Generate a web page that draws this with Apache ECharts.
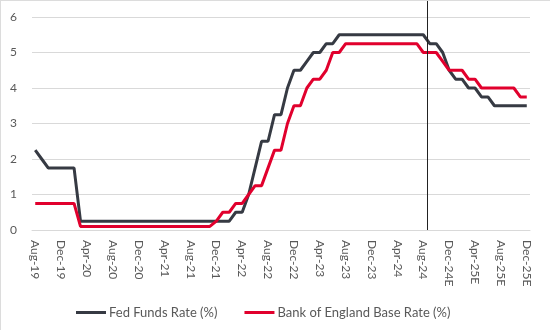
<!DOCTYPE html>
<html>
<head>
<meta charset="utf-8">
<script src="https://cdn.jsdelivr.net/npm/echarts@6/dist/echarts.min.js"></script>
<style>
  html, body { margin: 0; padding: 0; background: #fff; }
  #chart { position: absolute; left: 0; top: 0; width: 550px; height: 330px; }
  #frame { position: absolute; left: 0; top: 0; width: 550px; height: 330px; box-sizing: border-box;
           border-top: 1px solid #dcdcdc; border-left: 1px solid #dcdcdc; pointer-events: none; }
</style>
</head>
<body>
<div id="chart"></div>
<div id="frame"></div>
<script>
const months = [
  'Aug-19','Sep-19','Oct-19','Nov-19','Dec-19',
  'Jan-20','Feb-20','Mar-20','Apr-20','May-20','Jun-20','Jul-20','Aug-20','Sep-20','Oct-20','Nov-20','Dec-20',
  'Jan-21','Feb-21','Mar-21','Apr-21','May-21','Jun-21','Jul-21','Aug-21','Sep-21','Oct-21','Nov-21','Dec-21',
  'Jan-22','Feb-22','Mar-22','Apr-22','May-22','Jun-22','Jul-22','Aug-22','Sep-22','Oct-22','Nov-22','Dec-22',
  'Jan-23','Feb-23','Mar-23','Apr-23','May-23','Jun-23','Jul-23','Aug-23','Sep-23','Oct-23','Nov-23','Dec-23',
  'Jan-24','Feb-24','Mar-24','Apr-24','May-24','Jun-24','Jul-24','Aug-24','Sep-24E','Oct-24E','Nov-24E','Dec-24E',
  'Jan-25E','Feb-25E','Mar-25E','Apr-25E','May-25E','Jun-25E','Jul-25E','Aug-25E','Sep-25E','Oct-25E','Nov-25E','Dec-25E'
];

const fedFunds = [
  2.25, 2.0, 1.75, 1.75, 1.75, 1.75, 1.75,
  0.25, 0.25, 0.25, 0.25, 0.25, 0.25, 0.25, 0.25, 0.25, 0.25, 0.25, 0.25,
  0.25, 0.25, 0.25, 0.25, 0.25, 0.25, 0.25, 0.25, 0.25, 0.25, 0.25, 0.25,
  0.5, 0.5, 1.0, 1.75, 2.5, 2.5, 3.25, 3.25, 4.0, 4.5,
  4.5, 4.75, 5.0, 5.0, 5.25, 5.25,
  5.5, 5.5, 5.5, 5.5, 5.5, 5.5, 5.5, 5.5, 5.5, 5.5, 5.5, 5.5, 5.5, 5.5,
  5.25, 5.25, 5.0, 4.5, 4.25, 4.25, 4.0, 4.0, 3.75, 3.75,
  3.5, 3.5, 3.5, 3.5, 3.5, 3.5
];

const boeBase = [
  0.75, 0.75, 0.75, 0.75, 0.75, 0.75, 0.75,
  0.1, 0.1, 0.1, 0.1, 0.1, 0.1, 0.1, 0.1, 0.1, 0.1, 0.1, 0.1, 0.1, 0.1,
  0.1, 0.1, 0.1, 0.1, 0.1, 0.1, 0.1,
  0.25, 0.5, 0.5, 0.75, 0.75, 1.0, 1.25, 1.25, 1.75, 2.25, 2.25, 3.0, 3.5,
  3.5, 4.0, 4.25, 4.25, 4.5, 5.0, 5.0,
  5.25, 5.25, 5.25, 5.25, 5.25, 5.25, 5.25, 5.25, 5.25, 5.25, 5.25, 5.25,
  5.0, 5.0, 5.0, 4.75, 4.5, 4.5, 4.5, 4.25, 4.25,
  4.0, 4.0, 4.0, 4.0, 4.0, 4.0,
  3.75, 3.75
];

const yTicks = [0, 1, 2, 3, 4, 5, 6];
const seriesNames = ['Fed Funds Rate (%)', 'Bank of England Base Rate (%)'];
const forecastAfter = 'Aug-24';

const FONT = 'Lato, "Noto Sans", sans-serif';
const chart = echarts.init(document.getElementById('chart'), null, { renderer: 'canvas' });

chart.setOption({
  animation: false,
  textStyle: { fontFamily: FONT },
  grid: { left: 32, right: 20, top: 17, bottom: 100 },
  legend: {
    left: 71, bottom: 6,
    itemWidth: 30, itemHeight: 3, itemGap: 27,
    icon: 'rect',
    textStyle: { fontFamily: FONT, fontSize: 13, color: '#595959', padding: [0, 0, 0, -2] },
    data: seriesNames
  },
  xAxis: {
    type: 'category',
    data: months,
    boundaryGap: true,
    axisLine: { show: true, lineStyle: { color: '#d9d9d9', width: 1 } },
    axisTick: { show: false },
    axisLabel: { interval: 3, rotate: -90, margin: 10, fontSize: 12, color: '#595959', fontFamily: FONT },
    splitLine: { show: false }
  },
  yAxis: {
    type: 'value',
    min: yTicks[0], max: yTicks[yTicks.length - 1], interval: 1,
    axisLine: { show: false },
    axisTick: { show: false },
    axisLabel: { margin: 15, fontSize: 12, color: '#595959', fontFamily: FONT },
    splitLine: { lineStyle: { color: '#d9d9d9', width: 1 } }
  },
  series: [
    { name: seriesNames[0], type: 'line', data: fedFunds, showSymbol: false, symbol: 'none',
      lineStyle: { color: '#363a43', width: 3 }, itemStyle: { color: '#363a43' } },
    { name: seriesNames[1], type: 'line', data: boeBase, showSymbol: false, symbol: 'none',
      lineStyle: { color: '#e1002d', width: 3 }, itemStyle: { color: '#e1002d' } }
  ]
});

// Forecast divider: between the last actual month and the first estimate
const idx = months.indexOf(forecastAfter);
const xa = chart.convertToPixel({ xAxisIndex: 0 }, months[idx]);
const xb = chart.convertToPixel({ xAxisIndex: 0 }, months[idx + 1]);
const x0 = Math.round((xa + xb) / 2) + 0.5;
const yBase = chart.convertToPixel({ yAxisIndex: 0 }, 0);
chart.setOption({
  graphic: [{
    type: 'line', z: 10,
    shape: { x1: x0, y1: 1, x2: x0, y2: yBase },
    style: { stroke: '#222', lineWidth: 1 }
  }]
});
</script>
</body>
</html>
